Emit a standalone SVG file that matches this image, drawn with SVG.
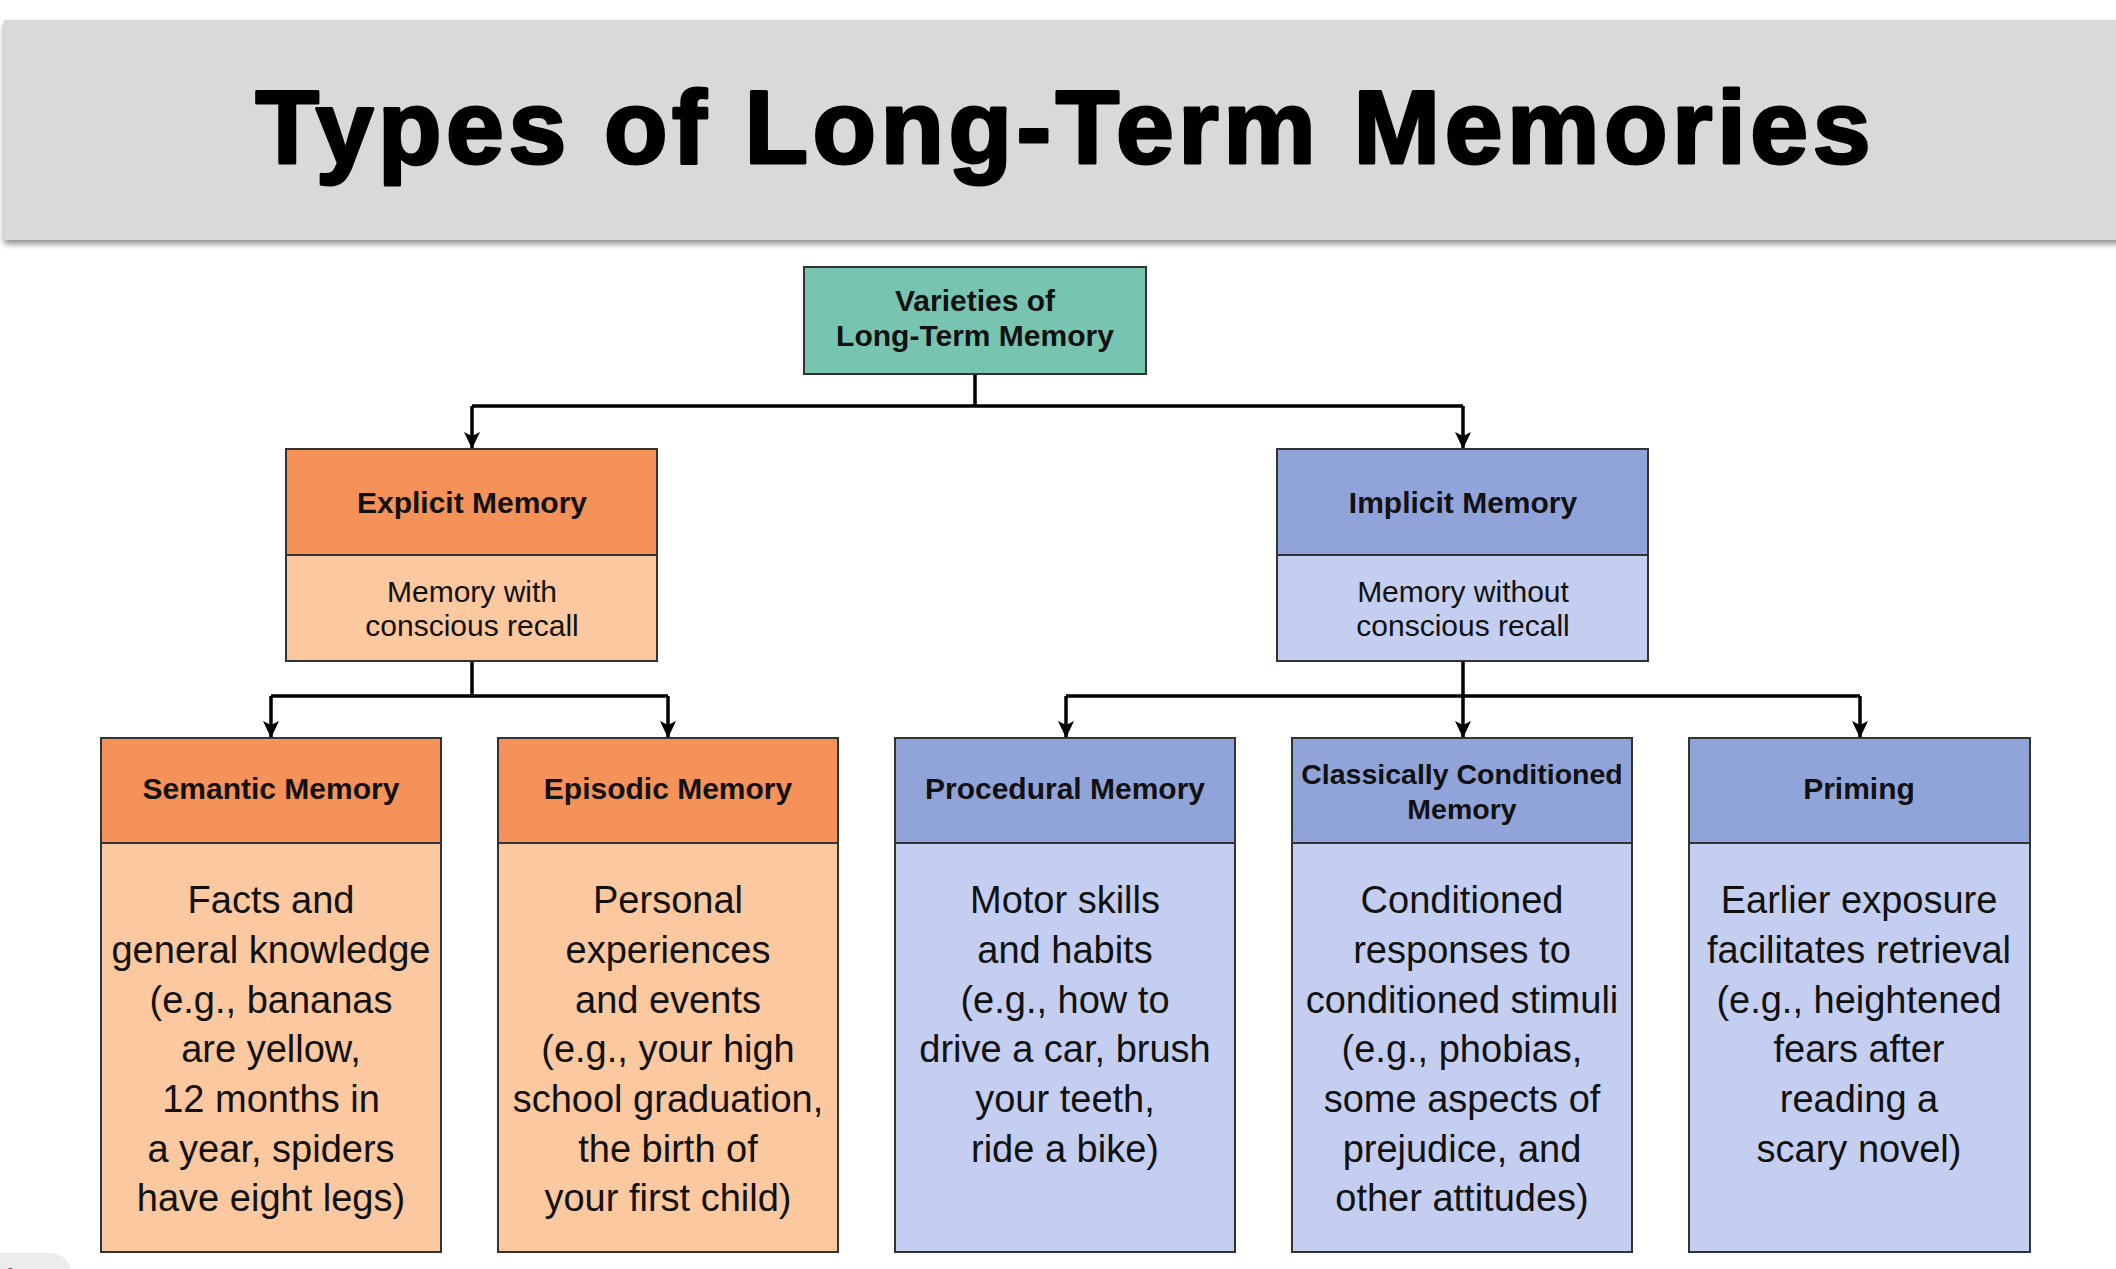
<svg xmlns="http://www.w3.org/2000/svg" width="2116" height="1269" viewBox="0 0 2116 1269">
<defs>
<filter id="sh" x="-5%" y="-20%" width="110%" height="150%">
<feGaussianBlur in="SourceAlpha" stdDeviation="3"/>
<feOffset dx="0" dy="4" result="b"/>
<feComponentTransfer><feFuncA type="linear" slope="0.45"/></feComponentTransfer>
<feMerge><feMergeNode/><feMergeNode in="SourceGraphic"/></feMerge>
</filter>
<marker id="ar" markerUnits="userSpaceOnUse" markerWidth="16" markerHeight="18" refX="8" refY="17" orient="0" viewBox="0 0 16 18">
<path d="M0,0 L8,4 L16,0 L8,17 Z" fill="#000"/>
</marker>
</defs>
<style>
text{font-family:"Liberation Sans",Arial,sans-serif;fill:#111;text-anchor:middle}
.hd{font-weight:bold;font-size:30px}
.hd2{font-weight:bold;font-size:28.5px}
.sb{font-size:30px}
.bd{font-size:38px}
.box{stroke:#333;stroke-width:2}
.div{stroke:#333;stroke-width:2}
.oh{fill:#f59259}.ob{fill:#fcc89f}
.bh{fill:#91a4da}.bb{fill:#c4cef0}
.con{fill:none;stroke:#000;stroke-width:3.5}
</style>
<rect width="2116" height="1269" fill="#fff"/>
<g id="title">
<rect x="4" y="20" width="2130" height="220" fill="#d9d9d9" filter="url(#sh)"/>
<text x="1063" y="163" style="font-size:104px;font-weight:bold;fill:#000;stroke:#000;stroke-width:3;stroke-linejoin:round" textLength="1615" lengthAdjust="spacing">Types of Long-Term Memories</text>
</g>
<g id="connectors">
<path class="con" d="M975,374 V406 M472,406 H1463"/>
<path class="con" d="M472,406 V449" marker-end="url(#ar)"/>
<path class="con" d="M1463,406 V449" marker-end="url(#ar)"/>
<path class="con" d="M472,661 V696 M271,696 H668"/>
<path class="con" d="M271,696 V738" marker-end="url(#ar)"/>
<path class="con" d="M668,696 V738" marker-end="url(#ar)"/>
<path class="con" d="M1463,661 V696 M1066,696 H1860"/>
<path class="con" d="M1066,696 V738" marker-end="url(#ar)"/>
<path class="con" d="M1463,696 V738" marker-end="url(#ar)"/>
<path class="con" d="M1860,696 V738" marker-end="url(#ar)"/>
</g>
<g id="root">
<rect class="box" x="804" y="267" width="342" height="107" fill="#77c5b0"/>
<text class="hd" x="975" y="311">Varieties of</text>
<text class="hd" x="975" y="346">Long-Term Memory</text>
</g>
<g id="explicit">
<rect class="oh" x="286" y="449" width="371" height="106"/>
<rect class="ob" x="286" y="555" width="371" height="106"/>
<rect class="box" x="286" y="449" width="371" height="212" fill="none"/>
<line class="div" x1="286" y1="555" x2="657" y2="555"/>
<text class="hd" x="472" y="513">Explicit Memory</text>
<text class="sb" x="472" y="602">Memory with</text>
<text class="sb" x="472" y="636">conscious recall</text>
</g>
<g id="implicit">
<rect class="bh" x="1277" y="449" width="371" height="106"/>
<rect class="bb" x="1277" y="555" width="371" height="106"/>
<rect class="box" x="1277" y="449" width="371" height="212" fill="none"/>
<line class="div" x1="1277" y1="555" x2="1648" y2="555"/>
<text class="hd" x="1463" y="513">Implicit Memory</text>
<text class="sb" x="1463" y="602">Memory without</text>
<text class="sb" x="1463" y="636">conscious recall</text>
</g>
<g id="semantic">
<rect class="oh" x="101" y="738" width="340" height="105"/>
<rect class="ob" x="101" y="843" width="340" height="409"/>
<rect class="box" x="101" y="738" width="340" height="514" fill="none"/>
<line class="div" x1="101" y1="843" x2="441" y2="843"/>
<text class="hd" x="271" y="799">Semantic Memory</text>
<text class="bd" x="271" y="913">Facts and</text>
<text class="bd" x="271" y="963">general knowledge</text>
<text class="bd" x="271" y="1013">(e.g., bananas</text>
<text class="bd" x="271" y="1062">are yellow,</text>
<text class="bd" x="271" y="1112">12 months in</text>
<text class="bd" x="271" y="1162">a year, spiders</text>
<text class="bd" x="271" y="1211">have eight legs)</text>
</g>
<g id="episodic">
<rect class="oh" x="498" y="738" width="340" height="105"/>
<rect class="ob" x="498" y="843" width="340" height="409"/>
<rect class="box" x="498" y="738" width="340" height="514" fill="none"/>
<line class="div" x1="498" y1="843" x2="838" y2="843"/>
<text class="hd" x="668" y="799">Episodic Memory</text>
<text class="bd" x="668" y="913">Personal</text>
<text class="bd" x="668" y="963">experiences</text>
<text class="bd" x="668" y="1013">and events</text>
<text class="bd" x="668" y="1062">(e.g., your high</text>
<text class="bd" x="668" y="1112">school graduation,</text>
<text class="bd" x="668" y="1162">the birth of</text>
<text class="bd" x="668" y="1211">your first child)</text>
</g>
<g id="procedural">
<rect class="bh" x="895" y="738" width="340" height="105"/>
<rect class="bb" x="895" y="843" width="340" height="409"/>
<rect class="box" x="895" y="738" width="340" height="514" fill="none"/>
<line class="div" x1="895" y1="843" x2="1235" y2="843"/>
<text class="hd" x="1065" y="799">Procedural Memory</text>
<text class="bd" x="1065" y="913">Motor skills</text>
<text class="bd" x="1065" y="963">and habits</text>
<text class="bd" x="1065" y="1013">(e.g., how to</text>
<text class="bd" x="1065" y="1062">drive a car, brush</text>
<text class="bd" x="1065" y="1112">your teeth,</text>
<text class="bd" x="1065" y="1162">ride a bike)</text>
</g>
<g id="classical">
<rect class="bh" x="1292" y="738" width="340" height="105"/>
<rect class="bb" x="1292" y="843" width="340" height="409"/>
<rect class="box" x="1292" y="738" width="340" height="514" fill="none"/>
<line class="div" x1="1292" y1="843" x2="1632" y2="843"/>
<text class="hd2" x="1462" y="784">Classically Conditioned</text>
<text class="hd2" x="1462" y="819">Memory</text>
<text class="bd" x="1462" y="913">Conditioned</text>
<text class="bd" x="1462" y="963">responses to</text>
<text class="bd" x="1462" y="1013">conditioned stimuli</text>
<text class="bd" x="1462" y="1062">(e.g., phobias,</text>
<text class="bd" x="1462" y="1112">some aspects of</text>
<text class="bd" x="1462" y="1162">prejudice, and</text>
<text class="bd" x="1462" y="1211">other attitudes)</text>
</g>
<g id="priming">
<rect class="bh" x="1689" y="738" width="341" height="105"/>
<rect class="bb" x="1689" y="843" width="341" height="409"/>
<rect class="box" x="1689" y="738" width="341" height="514" fill="none"/>
<line class="div" x1="1689" y1="843" x2="2030" y2="843"/>
<text class="hd" x="1859" y="799">Priming</text>
<text class="bd" x="1859" y="913">Earlier exposure</text>
<text class="bd" x="1859" y="963">facilitates retrieval</text>
<text class="bd" x="1859" y="1013">(e.g., heightened</text>
<text class="bd" x="1859" y="1062">fears after</text>
<text class="bd" x="1859" y="1112">reading a</text>
<text class="bd" x="1859" y="1162">scary novel)</text>
</g>
<g id="pager">
<rect x="-30" y="1253" width="102" height="50" rx="22" fill="#ececec"/>
<text x="4" y="1290" style="font-size:30px;fill:#555;text-anchor:start">f 73</text>
</g>
</svg>
